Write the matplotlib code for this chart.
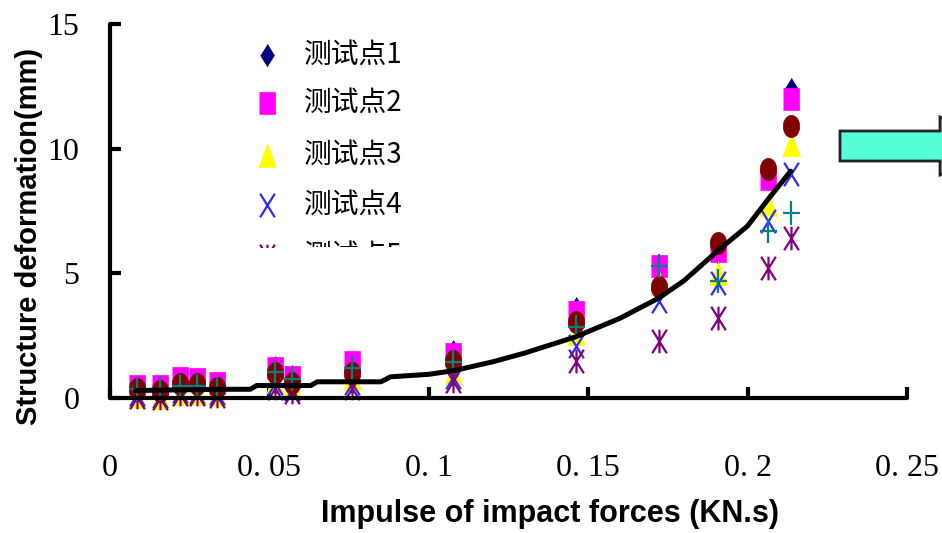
import numpy as np
import matplotlib
matplotlib.use("Agg")
import matplotlib.pyplot as plt
from matplotlib.path import Path
from matplotlib.lines import Line2D
from matplotlib.patches import Rectangle, Polygon

# ---------------- data ----------------
impulse = [0.0085, 0.0157, 0.022, 0.0274, 0.0336, 0.0519, 0.0572, 0.076,
           0.1075, 0.1462, 0.1723, 0.1906, 0.2063, 0.2135]
p1 = [0.5, 0.45, 0.7, 0.75, 0.55, 1.25, 0.9, 1.4, 1.9, 3.6, 5.2, 5.8, 8.9, 12.4]
p2 = [0.5, 0.5, 0.8, 0.75, 0.6, 1.2, 0.85, 1.45, 1.75, 3.45, 5.3, 5.9, 8.8, 12.0]
p3 = [0.1, 0.05, 0.2, 0.2, 0.15, 0.7, 0.5, 0.8, 1.0, 2.6, 4.6, 5.0, 7.8, 10.2]
p4 = [0.15, 0.1, 0.3, 0.25, 0.2, 0.6, 0.35, 0.6, 0.85, 2.1, 3.9, 4.6, 7.1, 9.0]
p5 = [0.05, 0.0, 0.15, 0.15, 0.1, 0.4, 0.25, 0.4, 0.7, 1.5, 2.3, 3.2, 5.2, 6.4]
p6 = [0.35, 0.35, 0.5, 0.5, 0.35, 1.05, 0.75, 1.2, 1.45, 2.85, 5.3, 4.7, 6.7, 7.4]
p7 = [0.35, 0.3, 0.55, 0.55, 0.4, 1.0, 0.6, 1.0, 1.5, 3.05, 4.45, 6.2, 9.2, 10.9]

fit_x = [0.008, 0.034, 0.044, 0.046, 0.063, 0.065, 0.085, 0.088, 0.1, 0.108,
         0.12, 0.13, 0.146, 0.16, 0.172, 0.18, 0.1906, 0.2, 0.206, 0.2135]
fit_y = [0.3, 0.35, 0.35, 0.5, 0.5, 0.65, 0.65, 0.85, 0.95, 1.1,
         1.45, 1.8, 2.45, 3.2, 4.0, 4.7, 5.9, 6.9, 7.9, 9.1]

legend_labels = ["测试点1", "测试点2", "测试点3", "测试点4", "测试点5"]
xticks = [0, 0.05, 0.1, 0.15, 0.2, 0.25]
xticklabels = ["0", "0. 05", "0. 1", "0. 15", "0. 2", "0. 25"]
yticks = [0, 5, 10, 15]
yticklabels = ["0", "5", "10", "15"]

# ---------------- marker shapes ----------------
diamond = [(0, 1), (0.62, 0), (0, -1), (-0.62, 0)]
square = [(-0.68, -1), (0.68, -1), (0.68, 1), (-0.68, 1)]
triangle = [(0, 1), (0.75, -1), (-0.75, -1)]
t = np.linspace(0, 2 * np.pi, 40)
ellipse = list(zip(0.74 * np.cos(t), np.sin(t)))
xmark = Path([(-0.62, -1), (0.62, 1), (-0.62, 1), (0.62, -1)],
             [Path.MOVETO, Path.LINETO, Path.MOVETO, Path.LINETO])
astmark = Path([(-0.62, -1), (0.62, 1), (-0.62, 1), (0.62, -1), (0, -1), (0, 1)],
               [Path.MOVETO, Path.LINETO, Path.MOVETO, Path.LINETO,
                Path.MOVETO, Path.LINETO])
plusmark = Path([(0, -1), (0, 1), (-0.72, 0), (0.72, 0)],
                [Path.MOVETO, Path.LINETO, Path.MOVETO, Path.LINETO])

styles = {
    "p1": dict(marker=diamond, color="#000080", filled=True, ms=16),
    "p2": dict(marker=square, color="#FF00FF", filled=True, ms=16),
    "p3": dict(marker=triangle, color="#FFFF00", filled=True, ms=17),
    "p4": dict(marker=xmark, color="#2B2BFF", filled=False, ms=17),
    "p5": dict(marker=astmark, color="#800080", filled=False, ms=17),
    "p7": dict(marker=ellipse, color="#800000", filled=True, ms=16),
    "p6": dict(marker=plusmark, color="#008080", filled=False, ms=17),
}
series = {"p1": p1, "p2": p2, "p3": p3, "p4": p4, "p5": p5, "p6": p6, "p7": p7}

W, H = 942, 533
fig = plt.figure(figsize=(W / 100, H / 100), dpi=100)
fig.patch.set_facecolor("white")
ax = fig.add_axes([110 / W, (H - 398) / H, 797 / W, 374 / H])


def kw(st):
    if st["filled"]:
        return dict(marker=st["marker"], ms=st["ms"], mfc=st["color"],
                    mec=st["color"], mew=0.5, linestyle="none")
    return dict(marker=st["marker"], ms=st["ms"], mfc="none",
                mec=st["color"], mew=1.6, linestyle="none")


for key in ["p1", "p2", "p3", "p4", "p5", "p7", "p6"]:
    ax.plot(impulse, series[key], clip_on=False, **kw(styles[key]))

ax.plot(fit_x, fit_y, color="black", lw=3.6, solid_capstyle="round", zorder=5)

ax.set_xlim(0, 0.25)
ax.set_ylim(0, 15)
for s in ["top", "right"]:
    ax.spines[s].set_visible(False)
for s in ["left", "bottom"]:
    ax.spines[s].set_linewidth(3)
    ax.spines[s].set_capstyle("round")

serif = "Liberation Serif"
ax.set_xticks(xticks)
ax.set_xticklabels(xticklabels, fontfamily=serif, fontsize=23)
ax.set_yticks(yticks)
ax.set_yticklabels(yticklabels, fontfamily=serif, fontsize=23)
ax.tick_params(axis="both", direction="in", length=8, width=3)
ax.tick_params(axis="x", pad=40)
ax.tick_params(axis="y", pad=22)

ax.set_xlabel("Impulse of impact forces (KN.s)", fontfamily="Liberation Sans",
              fontweight="bold", fontsize=22)
ax.xaxis.label.set_va("center")
ax.xaxis.set_label_coords((550 - 110) / 797, (398 - 514) / 374)
ax.set_ylabel("Structure deformation(mm)", fontfamily="Liberation Sans",
              fontweight="bold", fontsize=21)
ax.yaxis.label.set_va("center")
ax.yaxis.set_label_coords((29 - 110) / 797, (398 - 236) / 374)


# ---------------- legend (manual, last entry cut off) ----------------
def fx(px):
    return px / W


def fy(py):
    return 1 - py / H


clip_rect = Rectangle((0, fy(247)), 1, 1 - fy(247), transform=fig.transFigure,
                      facecolor="none", edgecolor="none")
fig.add_artist(clip_rect)
clip_rect.set_visible(False)

rows_y = [55, 103, 155, 205, 256]
leg_keys = ["p1", "p2", "p3", "p4", "p5"]
for key, label, ry in zip(leg_keys, legend_labels, rows_y):
    st = styles[key]
    ln = Line2D([fx(267)], [fy(ry)], transform=fig.transFigure, **kw(st))
    fig.add_artist(ln)
    tx = fig.text(fx(304), fy(ry), label, fontsize=20,
                  family=["Noto Sans CJK SC", "DejaVu Sans"],
                  ha="left", va="center", color="black")
    ln.set_clip_path(clip_rect)
    tx.set_clip_path(clip_rect)

# ---------------- cyan block arrow at right edge ----------------
arrow_pts = [(840, 131), (940, 131), (940, 117), (1000, 146), (940, 175),
             (940, 161), (840, 161)]
arrow = Polygon([(fx(a), fy(b)) for a, b in arrow_pts], closed=True,
                transform=fig.transFigure, facecolor="#55FFD8",
                edgecolor="#222222", lw=2)
fig.add_artist(arrow)

fig.savefig("out.png", dpi=100, facecolor="white")
